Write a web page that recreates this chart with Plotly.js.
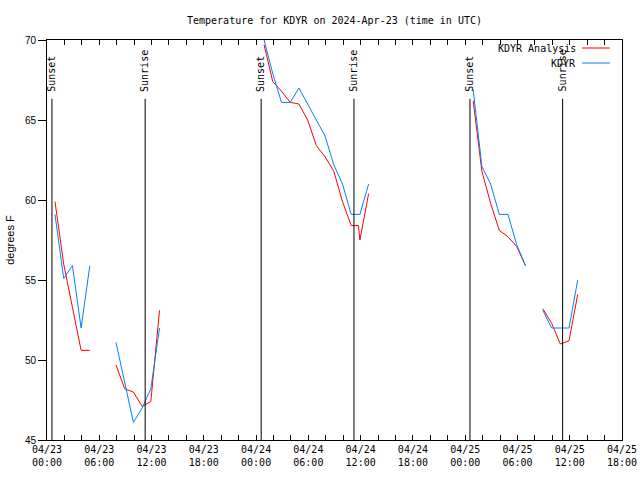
<!DOCTYPE html>
<html><head><meta charset="utf-8">
<script src="https://cdn.plot.ly/plotly-3.0.1.min.js"></script>
<style>html,body{margin:0;padding:0;background:#fff}#chart{width:640px;height:480px}</style>
</head><body><div id="chart"></div>
<script>
const chartTitle = "Temperature for KDYR on 2024-Apr-23 (time in UTC)";
const yTitle = "degrees F";
const seriesNames = ["KDYR Analysis", "KDYR"];
const seriesColors = ["#ff0000", "#0080ff"];

// KDYR Analysis (red)
const anaTimes = [
  "2024-04-23 00:55","2024-04-23 01:55","2024-04-23 02:55","2024-04-23 03:55","2024-04-23 04:55",
  "2024-04-23 06:00",
  "2024-04-23 07:55","2024-04-23 08:55","2024-04-23 09:55","2024-04-23 10:55","2024-04-23 11:55","2024-04-23 12:55",
  "2024-04-23 18:00",
  "2024-04-24 00:55","2024-04-24 01:55","2024-04-24 02:55","2024-04-24 03:55","2024-04-24 04:55","2024-04-24 05:55",
  "2024-04-24 06:55","2024-04-24 07:55","2024-04-24 08:55","2024-04-24 09:55","2024-04-24 10:55","2024-04-24 11:45",
  "2024-04-24 11:55","2024-04-24 12:55",
  "2024-04-24 18:00",
  "2024-04-25 00:55","2024-04-25 01:55","2024-04-25 02:55","2024-04-25 03:55","2024-04-25 04:55","2024-04-25 05:55","2024-04-25 06:55",
  "2024-04-25 07:55",
  "2024-04-25 08:55","2024-04-25 09:55","2024-04-25 10:55","2024-04-25 11:55","2024-04-25 12:55"
];
const anaTemps = [
  59.9, 56.0, 53.3, 50.6, 50.6,
  null,
  49.7, 48.2, 48.0, 47.1, 47.4, 53.1,
  null,
  69.7, 67.4, 66.8, 66.1, 66.0, 65.0,
  63.4, 62.7, 61.8, 59.9, 58.4, 58.4,
  57.5, 60.4,
  null,
  66.2, 61.8, 59.8, 58.1, 57.7, 57.1, 55.9,
  null,
  53.2, 52.3, 51.0, 51.2, 54.1
];

// KDYR observations (blue)
const obsTimes = [
  "2024-04-23 00:55","2024-04-23 01:55","2024-04-23 02:55","2024-04-23 03:55","2024-04-23 04:55",
  "2024-04-23 06:00",
  "2024-04-23 07:55","2024-04-23 08:55","2024-04-23 09:55","2024-04-23 10:55","2024-04-23 11:55","2024-04-23 12:55",
  "2024-04-23 18:00",
  "2024-04-24 00:55","2024-04-24 01:55","2024-04-24 02:55","2024-04-24 03:55","2024-04-24 04:55","2024-04-24 05:55",
  "2024-04-24 06:55","2024-04-24 07:55","2024-04-24 08:55","2024-04-24 09:55","2024-04-24 10:55","2024-04-24 11:55",
  "2024-04-24 12:55",
  "2024-04-24 18:00",
  "2024-04-25 00:55","2024-04-25 01:55","2024-04-25 02:55","2024-04-25 03:55","2024-04-25 04:55","2024-04-25 05:55","2024-04-25 06:55",
  "2024-04-25 07:55",
  "2024-04-25 08:55","2024-04-25 09:55","2024-04-25 10:55","2024-04-25 11:55","2024-04-25 12:55"
];
const obsTemps = [
  59.1, 55.1, 55.9, 52.0, 55.9,
  null,
  51.1, 48.6, 46.1, 47.0, 48.2, 52.0,
  null,
  70.0, 67.9, 66.1, 66.1, 67.0, 66.0,
  65.0, 64.0, 62.2, 61.0, 59.1, 59.1,
  61.0,
  null,
  66.9, 62.1, 61.0, 59.1, 59.1, 57.2, 55.9,
  null,
  53.1, 52.0, 52.0, 52.0, 55.0
];

const sunsetTimes = ["2024-04-23 00:34","2024-04-24 00:35","2024-04-25 00:33"];
const sunriseTimes = ["2024-04-23 11:16","2024-04-24 11:14","2024-04-25 11:11"];
const sunLabels = ["Sunset","Sunrise"];

const xRange = ["2024-04-23 00:00","2024-04-25 18:00"];
const yRange = [45, 70];

const MONO = "DejaVu Sans Mono";
const SANS = "Liberation Sans";

const traces = [
  {x: anaTimes, y: anaTemps, name: seriesNames[0], type: "scatter", mode: "lines",
   line: {color: seriesColors[0], width: 1}, connectgaps: false, showlegend: false},
  {x: obsTimes, y: obsTemps, name: seriesNames[1], type: "scatter", mode: "lines",
   line: {color: seriesColors[1], width: 1}, connectgaps: false, showlegend: false}
];

const shapes = [];
const annotations = [];
function addSun(times, label) {
  times.forEach(t => {
    shapes.push({type: "line", xref: "x", yref: "paper", x0: t, x1: t, y0: 0, y1: 0.853,
                 line: {color: "#000", width: 1}, layer: "above"});
    annotations.push({text: label, xref: "x", yref: "paper", x: t, y: 0.868,
                      xanchor: "center", yanchor: "bottom", textangle: -90, showarrow: false,
                      font: {family: MONO, size: 10, color: "#000"}, borderpad: 0});
  });
}
addSun(sunsetTimes, sunLabels[0]);
addSun(sunriseTimes, sunLabels[1]);

// gnuplot-style key: text right-aligned, sample line to its right
const keyRows = [0.98, 0.9425];
seriesNames.forEach((n, i) => {
  annotations.push({text: n, xref: "paper", yref: "paper", x: 0.921, y: keyRows[i],
                    xanchor: "right", yanchor: "middle", showarrow: false,
                    font: {family: MONO, size: 10, color: "#000"}, borderpad: 0});
  shapes.push({type: "line", xref: "paper", yref: "paper", x0: 0.9304, x1: 0.979,
               y0: keyRows[i], y1: keyRows[i], line: {color: seriesColors[i], width: 1}});
});

const layout = {
  width: 640, height: 480,
  margin: {l: 47, r: 18, t: 40, b: 40},
  paper_bgcolor: "#fff", plot_bgcolor: "#fff",
  showlegend: false,
  title: {text: chartTitle, font: {family: MONO, size: 10, color: "#000"},
          x: 0.5, xref: "paper", y: 1 - 20/480, yref: "container", yanchor: "middle"},
  xaxis: {type: "date", range: xRange, tickformat: "%m/%d<br>%H:%M",
          tick0: "2024-04-23 00:00", dtick: 6*3600000,
          ticks: "inside", ticklen: 5, tickcolor: "#000", tickwidth: 1,
          minor: {dtick: 2*3600000, ticks: "inside", ticklen: 5, tickcolor: "#000", showgrid: false},
          showline: true, linecolor: "#000", linewidth: 1, mirror: "ticks",
          showgrid: false, zeroline: false,
          tickfont: {family: MONO, size: 10, color: "#000"}},
  yaxis: {range: yRange, dtick: 5, tick0: 45,
          ticks: "outside", ticklen: 8, tickcolor: "#000", tickwidth: 1,
          showline: true, linecolor: "#000", linewidth: 1, mirror: true,
          showgrid: false, zeroline: false,
          tickfont: {family: SANS, size: 10, color: "#000"},
          title: {text: yTitle, font: {family: SANS, size: 11, color: "#000"}, standoff: 8}},
  shapes: shapes,
  annotations: annotations
};

Plotly.newPlot("chart", traces, layout, {displayModeBar: false, staticPlot: true});
</script>
</body></html>
